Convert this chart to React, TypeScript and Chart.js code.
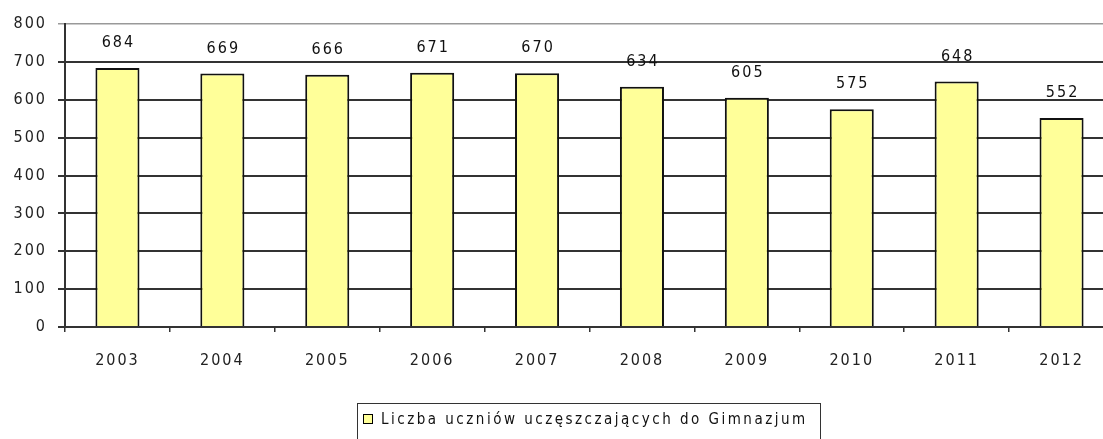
import React, { useEffect, useRef } from "react";
import { Chart, registerables } from "chart.js";

Chart.register(...registerables);

const categories = ["2003", "2004", "2005", "2006", "2007", "2008", "2009", "2010", "2011", "2012"];
const values = [684, 669, 666, 671, 670, 634, 605, 575, 648, 552];
const seriesLabel = "Liczba uczniów uczęszczających do Gimnazjum";
const yMax = 800;
const yStep = 100;

const FONT = '"DejaVu Sans Condensed", "DejaVu Sans", sans-serif';
const SPACING = "2px";

export default function App() {
  const ref = useRef<HTMLCanvasElement | null>(null);

  useEffect(() => {
    if (!ref.current) return;
    const spacingPlugin = {
      id: "spacing",
      beforeDraw(chart: any) {
        (chart.ctx as any).letterSpacing = SPACING;
      },
    };
    const labelsPlugin = {
      id: "barLabels",
      afterDatasetsDraw(chart: any) {
        const ctx = chart.ctx;
        const meta = chart.getDatasetMeta(0);
        ctx.save();
        (ctx as any).letterSpacing = SPACING;
        ctx.font = `16px ${FONT}`;
        ctx.fillStyle = "#111";
        ctx.textAlign = "center";
        ctx.textBaseline = "middle";
        meta.data.forEach((bar: any, i: number) => {
          ctx.fillText(String(values[i]), bar.x + 1, bar.y - 25);
        });
        ctx.restore();
      },
    };
    const legendPlugin = {
      id: "boxLegend",
      afterDraw(chart: any) {
        const ctx = chart.ctx;
        ctx.save();
        ctx.font = `15px ${FONT}`;
        (ctx as any).letterSpacing = "0px";
        const raw = ctx.measureText(seriesLabel).width;
        const target = 424;
        const sp = Math.max(0, (target - raw) / (seriesLabel.length - 1));
        (ctx as any).letterSpacing = sp.toFixed(2) + "px";
        const bx = 357;
        const by = 403;
        const bw = 820 - 357;
        ctx.strokeStyle = "#333";
        ctx.lineWidth = 1;
        ctx.strokeRect(bx + 0.5, by + 0.5, bw, 60);
        ctx.fillStyle = "#FFFF99";
        ctx.fillRect(363, 414, 10, 10);
        ctx.strokeStyle = "#000";
        ctx.strokeRect(363.5, 414.5, 9, 9);
        ctx.fillStyle = "#111";
        ctx.textAlign = "left";
        ctx.textBaseline = "middle";
        ctx.fillText(seriesLabel, 381, 420);
        ctx.restore();
      },
    };

    const chart = new Chart(ref.current, {
      type: "bar",
      data: {
        labels: categories,
        datasets: [
          {
            label: seriesLabel,
            data: values,
            backgroundColor: "#FFFF99",
            borderColor: "#111",
            borderWidth: 2,
            categoryPercentage: 1,
            barPercentage: 0.42,
          },
        ],
      },
      options: {
        animation: false,
        responsive: false,
        maintainAspectRatio: false,
        layout: { padding: { top: 24, left: 0, right: 0, bottom: 0 } },
        plugins: {
          legend: { display: false },
          tooltip: { enabled: false },
        },
        scales: {
          x: {
            offset: true,
            grid: {
              offset: true,
              drawOnChartArea: false,
              drawTicks: true,
              tickLength: 5,
              color: "#333",
              lineWidth: 1.5,
            },
            border: { color: "#333", width: 2 },
            ticks: {
              color: "#222",
              font: { family: FONT, size: 16 },
              padding: 19,
              maxRotation: 0,
            },
            afterFit(scale: any) {
              scale.height = 112;
            },
          },
          y: {
            min: 0,
            max: yMax,
            ticks: {
              stepSize: yStep,
              color: "#222",
              font: { family: FONT, size: 16 },
              padding: 11,
            },
            grid: {
              color: (c: any) => (c.tick && c.tick.value === yMax ? "#999" : "#333"),
              lineWidth: (c: any) => (c.tick && c.tick.value === yMax ? 1.5 : 2),
              tickLength: 7,
            },
            border: { color: "#333", width: 2 },
            afterFit(scale: any) {
              scale.width = 65;
            },
          },
        },
      },
      plugins: [spacingPlugin, labelsPlugin, legendPlugin],
    });
    return () => chart.destroy();
  }, []);

  return (
    <div
      style={{
        position: "fixed",
        left: 0,
        top: 0,
        width: 1103,
        height: 439,
        overflow: "hidden",
        background: "#fff",
      }}
    >
      <canvas ref={ref} width={1114} height={439} style={{ display: "block", width: 1114, height: 439 }} />
    </div>
  );
}
